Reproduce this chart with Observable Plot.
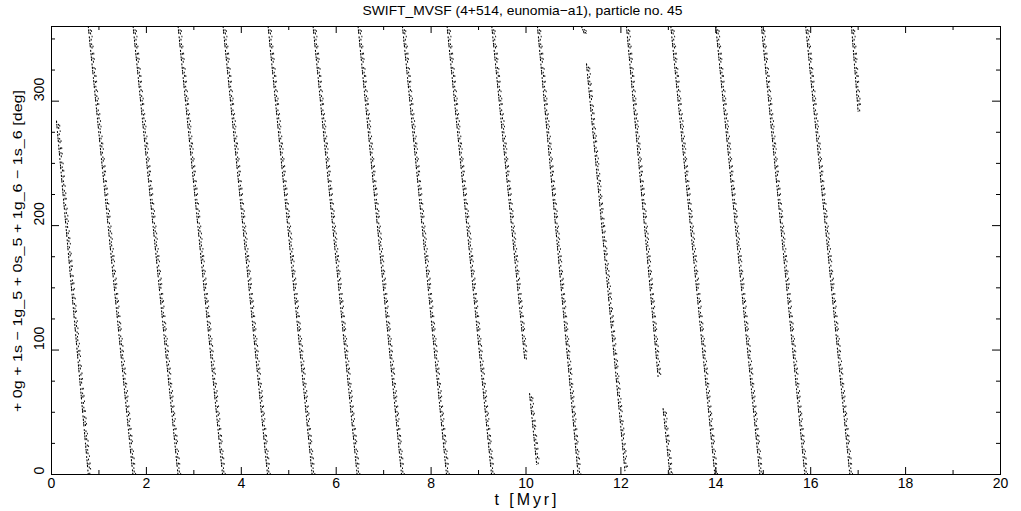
<!DOCTYPE html>
<html>
<head>
<meta charset="utf-8">
<script src="https://cdn.jsdelivr.net/npm/d3@7"></script>
<script src="https://cdn.jsdelivr.net/npm/@observablehq/plot@0.6"></script>
<style>
  html, body { margin: 0; padding: 0; background: #fff; overflow: hidden; }
  #title, #chart { display: block; }
</style>
</head>
<body>
<svg id="title" width="1021" height="20" xmlns="http://www.w3.org/2000/svg"></svg>
<div id="chart"></div>
<script>
// Segments of the circulating angle (t in Myr, angle in deg)
const segT0 = [0.12, 0.79, 1.735, 2.683, 3.631, 4.580, 5.528, 6.476, 7.412, 8.352, 9.294, 10.09, 10.257, 11.184, 11.29, 12.133, 12.904, 13.067, 14.015, 14.978, 15.91, 16.875];
const segA0 = [284,  360,  360,   360,   360,   360,   360,   360,   360,   360,   360,   65,    360,    360,    330,   360,    53,     360,    360,    360,    360,   360];
const segT1 = [0.79, 1.73, 2.68,  3.619, 4.567, 5.507, 6.455, 7.391, 8.339, 9.288, 9.99,  10.24, 11.113, 11.25, 12.10, 12.80,  13.045, 13.994, 14.942, 15.89,  16.839, 17.014];
const segA1 = [0,    0,    0,     0,     0,     0,     0,     0,     0,     0,     92,    8,     0,      354,    3,     78,     1,      0,      0,      0,      0,     292];

const xMajor = [0, 2, 4, 6, 8, 10, 12, 14, 16, 18, 20];
const xMinor = [1, 3, 5, 7, 9, 11, 13, 15, 17, 19];
const yMajor = [0, 100, 200, 300];
const yMinor = [25, 50, 75, 125, 150, 175, 225, 250, 275, 325, 350];

const title = "SWIFT_MVSF (4+514, eunomia−a1), particle no. 45";
const xLabel = "t [Myr]";
const yLabel = "+ 0g + 1s − 1g_5 + 0s_5 + 1g_6 − 1s_6 [deg]";

const pts = [];
segT0.forEach((t0, i) => {
  pts.push({seg: i, t: t0, a: segA0[i]});
  pts.push({seg: i, t: segT1[i], a: segA1[i]});
});

const W = 1021, H = 491;
const mt = 6, mb = 37, ml = 51, mr = 21;
const ih = H - mt - mb, iw = W - ml - mr;
const font = "Liberation Sans, Arial, sans-serif";

// title (above the plot SVG)
d3.select("#title").append("text")
  .attr("x", ml + iw / 2 - 3).attr("y", 15)
  .attr("text-anchor", "middle")
  .attr("font-family", font).attr("font-size", 13)
  .attr("textLength", 320).attr("lengthAdjust", "spacingAndGlyphs")
  .text(title);

const chart = Plot.plot({
  width: W, height: H,
  marginTop: mt, marginBottom: mb, marginLeft: ml, marginRight: mr,
  style: {fontFamily: font, fontSize: "13px", background: "#fff", color: "#000"},
  x: {domain: [0, 20], axis: null},
  y: {domain: [0, 360], axis: null},
  marks: [
    Plot.line(pts, {x: "t", y: "a", z: "seg", stroke: "#000", strokeWidth: 1.1, strokeDasharray: "1.3 1.9 0.9 1.3 1.6 3.4 1 2.2", dx: -0.7}),
    Plot.line(pts, {x: "t", y: "a", z: "seg", stroke: "#000", strokeWidth: 1, strokeDasharray: "1 3.7 0.8 2.4 1.2 5.1", strokeDashoffset: 1.5, dx: 0.9}),
    Plot.line(pts, {x: "t", y: "a", z: "seg", stroke: "#000", strokeWidth: 0.9, strokeDasharray: "0.8 6.3 1 4.6 0.8 9.1", strokeDashoffset: 3, dx: 2.1}),
    Plot.frame({stroke: "#000", strokeWidth: 1}),
    // inward ticks on all four sides
    Plot.ruleX(xMajor, {x: d => d, stroke: "#000", insetTop: ih - 7}),
    Plot.ruleX(xMinor, {x: d => d, stroke: "#000", insetTop: ih - 4}),
    Plot.ruleX(xMajor, {x: d => d, stroke: "#000", insetBottom: ih - 7}),
    Plot.ruleX(xMinor, {x: d => d, stroke: "#000", insetBottom: ih - 4}),
    Plot.ruleY(yMajor, {y: d => d, stroke: "#000", insetRight: iw - 8}),
    Plot.ruleY(yMinor, {y: d => d, stroke: "#000", insetRight: iw - 4}),
    Plot.ruleY(yMajor, {y: d => d, stroke: "#000", insetLeft: iw - 8}),
    Plot.ruleY(yMinor, {y: d => d, stroke: "#000", insetLeft: iw - 4}),
    // tick labels
    Plot.text(xMajor, {x: d => d, frameAnchor: "bottom", dy: 13, text: d => String(d), fill: "#000", fontSize: 14}),
    Plot.text(yMajor, {y: d => d, frameAnchor: "left", dx: -12, rotate: -90, text: d => String(d), fill: "#000", fontSize: 14})
  ]
});
document.getElementById("chart").appendChild(chart);

// axis labels, placed in the plot SVG
const svg = d3.select(chart);
svg.append("text")
  .attr("transform", `translate(${ml + iw / 2},${H - 6})`)
  .attr("text-anchor", "middle")
  .attr("font-family", font).attr("font-size", 16).attr("fill", "#000")
  .attr("textLength", 62).attr("lengthAdjust", "spacing")
  .text(xLabel);
svg.append("text")
  .attr("transform", `translate(22,${mt + ih / 2 + 1}) rotate(-90)`)
  .attr("text-anchor", "middle")
  .attr("font-family", font).attr("font-size", 13).attr("fill", "#000")
  .attr("textLength", 322).attr("lengthAdjust", "spacingAndGlyphs")
  .text(yLabel);
</script>
</body>
</html>
